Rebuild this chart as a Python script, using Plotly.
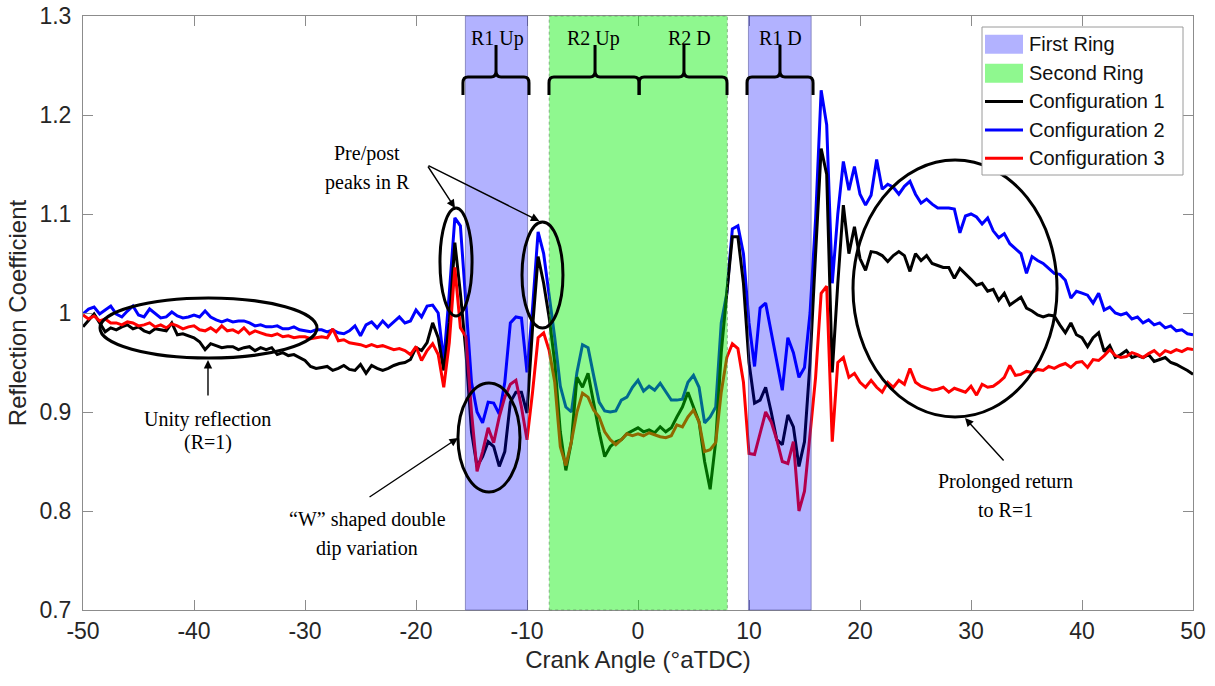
import numpy as np
import plotly.graph_objects as go

# Crank angle sampling grid (deg aTDC), 0.5 deg resolution
crank_angle = np.linspace(-50, 50, 201)

config1 = [
    0.986, 0.993, 0.999, 0.990, 0.981, 0.985, 0.983, 0.986, 0.988, 0.984,
    0.986, 0.982, 0.980, 0.984, 0.983, 0.982, 0.990, 0.978, 0.979, 0.977,
    0.975, 0.971, 0.963, 0.969, 0.967, 0.965, 0.966, 0.966, 0.963, 0.965,
    0.966, 0.962, 0.965, 0.963, 0.965, 0.958, 0.960, 0.957, 0.958, 0.955,
    0.952, 0.946, 0.944, 0.945, 0.946, 0.942, 0.944, 0.947, 0.943, 0.942,
    0.948, 0.939, 0.947, 0.944, 0.942, 0.944, 0.947, 0.949, 0.950, 0.953,
    0.965, 0.962, 0.970, 0.990, 0.975, 0.942, 0.990, 1.071, 1.020, 0.960,
    0.880, 0.845, 0.855, 0.870, 0.865, 0.845, 0.860, 0.910, 0.920, 0.920,
    0.899, 0.985, 1.057, 1.030, 0.995, 0.950, 0.880, 0.841, 0.870, 0.935,
    0.925, 0.939, 0.910, 0.880, 0.855, 0.865, 0.870, 0.872, 0.878, 0.881,
    0.884, 0.880, 0.882, 0.879, 0.885, 0.880, 0.884, 0.895, 0.905, 0.920,
    0.905, 0.890, 0.850, 0.822, 0.870, 0.960, 1.020, 1.077, 1.077, 1.030,
    0.950, 0.909, 0.912, 0.925, 0.900, 0.872, 0.867, 0.897, 0.885, 0.845,
    0.870, 0.950, 1.060, 1.166, 1.140, 0.940, 1.030, 1.109, 1.060, 1.087,
    1.055, 1.043, 1.062, 1.061, 1.058, 1.052, 1.058, 1.062, 1.058, 1.042,
    1.060, 1.053, 1.058, 1.050, 1.048, 1.046, 1.046, 1.035, 1.045, 1.040,
    1.034, 1.028, 1.030, 1.022, 1.024, 1.013, 1.020, 1.008, 1.012, 1.016,
    1.005, 1.002, 0.998, 0.996, 0.998, 0.997, 0.988, 0.980, 0.990, 0.978,
    0.975, 0.966, 0.975, 0.980, 0.961, 0.967, 0.955, 0.958, 0.962, 0.955,
    0.957, 0.955, 0.958, 0.951, 0.953, 0.955, 0.950, 0.948, 0.945, 0.942,
    0.938,
]

config2 = [
    0.999, 1.004, 1.006, 0.999, 1.003, 1.007, 0.999, 0.996, 1.002, 1.007,
    0.998, 0.996, 1.004, 0.999, 0.995, 0.996, 1.001, 0.997, 0.995, 0.996,
    0.998, 0.996, 1.002, 0.996, 0.993, 0.991, 0.993, 0.991, 0.992, 0.992,
    0.990, 0.987, 0.988, 0.986, 0.986, 0.987, 0.984, 0.984, 0.986, 0.983,
    0.982, 0.981, 0.983, 0.983, 0.981, 0.983, 0.980, 0.979, 0.982, 0.987,
    0.977, 0.988, 0.991, 0.985, 0.992, 0.986, 0.991, 0.996, 0.990, 0.992,
    1.003, 0.996, 1.007, 1.008, 1.000, 0.951, 1.020, 1.096, 1.088, 1.010,
    0.930, 0.900, 0.889, 0.910, 0.909, 0.898, 0.930, 0.990, 0.996, 0.995,
    0.940, 1.005, 1.082, 1.060, 1.020, 0.975, 0.926, 0.905, 0.900, 0.940,
    0.968, 0.965, 0.937, 0.910, 0.901, 0.900, 0.901, 0.912, 0.915, 0.925,
    0.932, 0.921, 0.926, 0.922, 0.929, 0.920, 0.912, 0.912, 0.913, 0.930,
    0.937, 0.925, 0.889, 0.895, 0.905, 0.990, 1.020, 1.085, 1.088, 1.060,
    0.990, 0.946, 1.005, 1.010, 0.980, 0.950, 0.922, 0.975, 0.960, 0.935,
    0.945, 1.000, 1.095, 1.225, 1.190, 1.030, 1.100, 1.153, 1.124, 1.148,
    1.120, 1.109, 1.119, 1.155, 1.125, 1.130, 1.127, 1.120, 1.128, 1.133,
    1.120, 1.111, 1.115, 1.110, 1.106, 1.106, 1.106, 1.105, 1.081, 1.098,
    1.100, 1.097, 1.090, 1.096, 1.083, 1.076, 1.080, 1.070, 1.065, 1.060,
    1.040, 1.057, 1.053, 1.050, 1.045, 1.040, 1.039, 1.033, 1.015, 1.022,
    1.020, 1.018, 1.010, 1.020, 1.003, 1.006, 1.000, 0.998, 1.000, 0.994,
    0.996, 0.990, 0.993, 0.988, 0.990, 0.985, 0.987, 0.982, 0.983, 0.979,
    0.978,
]

config3 = [
    0.998, 0.994, 0.997, 0.992, 0.994, 0.990, 0.990, 0.988, 0.991, 0.990,
    0.987, 0.988, 0.990, 0.986, 0.988, 0.985, 0.989, 0.987, 0.984, 0.986,
    0.987, 0.983, 0.982, 0.985, 0.981, 0.987, 0.982, 0.983, 0.980, 0.985,
    0.979, 0.982, 0.980, 0.978, 0.977, 0.979, 0.976, 0.977, 0.975, 0.976,
    0.976, 0.974, 0.975, 0.976, 0.975, 0.984, 0.972, 0.973, 0.970, 0.969,
    0.968, 0.966, 0.968, 0.966, 0.967, 0.965, 0.963, 0.964, 0.962, 0.958,
    0.966, 0.952, 0.962, 0.969, 0.958, 0.925, 0.970, 1.046, 0.985, 0.976,
    0.900, 0.840, 0.860, 0.884, 0.869, 0.895, 0.915, 0.928, 0.932, 0.905,
    0.872, 0.920, 0.975, 0.980, 0.962, 0.930, 0.865, 0.846, 0.870, 0.900,
    0.919, 0.915, 0.902, 0.895, 0.880, 0.872, 0.867, 0.872, 0.878, 0.876,
    0.878, 0.876, 0.879, 0.877, 0.875, 0.874, 0.876, 0.887, 0.885, 0.895,
    0.902, 0.890, 0.860, 0.862, 0.869, 0.920, 0.955, 0.969, 0.964, 0.930,
    0.858, 0.857, 0.880, 0.900, 0.890, 0.872, 0.850, 0.848, 0.870, 0.800,
    0.820, 0.880, 0.935, 1.020, 1.027, 0.870, 0.950, 0.955, 0.935, 0.939,
    0.930, 0.925, 0.932, 0.925, 0.920, 0.930, 0.925, 0.932, 0.928, 0.944,
    0.930, 0.926, 0.924, 0.922, 0.923, 0.925, 0.920, 0.924, 0.922, 0.920,
    0.926, 0.917, 0.928, 0.925, 0.926, 0.930, 0.935, 0.947, 0.937, 0.938,
    0.941, 0.940, 0.943, 0.942, 0.946, 0.944, 0.947, 0.949, 0.945, 0.950,
    0.951, 0.945, 0.953, 0.952, 0.957, 0.963, 0.957, 0.955, 0.956, 0.960,
    0.958, 0.955, 0.959, 0.962, 0.957, 0.962, 0.960, 0.963, 0.961, 0.964,
    0.963,
]

assert len(config1) == len(config2) == len(config3) == len(crank_angle)

series_names = ["Configuration 1", "Configuration 2", "Configuration 3"]
series_colors = ["#000000", "#0000ff", "#ff0000"]

# Ring passage windows (deg aTDC)
first_ring_windows = [(-15.55, -9.95), (9.95, 15.6)]
second_ring_windows = [(-8.0, 8.05)]
first_ring_fill = "rgba(0,0,255,0.30)"
second_ring_fill = "rgba(0,240,0,0.44)"

x_ticks = [-50, -40, -30, -20, -10, 0, 10, 20, 30, 40, 50]
x_tick_text = ["-50", "-40", "-30", "-20", "-10", "0", "10", "20", "30", "40", "50"]
y_ticks = [0.7, 0.8, 0.9, 1.0, 1.1, 1.2, 1.3]
y_tick_text = ["0.7", "0.8", "0.9", "1", "1.1", "1.2", "1.3"]

W, H = 1215, 686
ML, MR, MT, MB = 83, 22, 16, 76
PW, PH = W - ML - MR, H - MT - MB

SANS = "Liberation Sans, Arial, sans-serif"
SERIF = "Liberation Serif, Times New Roman, serif"

fig = go.Figure()

# draw order: blue underneath, then black, then red
for idx in (1, 0, 2):
    ys = [config1, config2, config3][idx]
    fig.add_trace(go.Scatter(
        x=crank_angle, y=ys, mode="lines", name=series_names[idx],
        line=dict(color=series_colors[idx], width=3), showlegend=False,
    ))

shapes = []
# translucent ring windows laid over the curves
for x0, x1 in first_ring_windows:
    shapes.append(dict(type="rect", xref="x", yref="y domain", x0=x0, x1=x1, y0=0, y1=1,
                       fillcolor=first_ring_fill, layer="above",
                       line=dict(color="rgba(80,80,150,0.55)", width=1)))
for x0, x1 in second_ring_windows:
    shapes.append(dict(type="rect", xref="x", yref="y domain", x0=x0, x1=x1, y0=0, y1=1,
                       fillcolor=second_ring_fill, layer="above",
                       line=dict(color="rgba(90,130,90,0.6)", width=1, dash="dot")))


def brace(xl, xr, xm, y_end=1.2202, y_bar=1.2384, y_top=1.2707, rx=0.45, ry=0.006):
    p = (f"M{xl},{y_end} L{xl},{y_bar - ry} Q{xl},{y_bar} {xl + rx},{y_bar} "
         f"L{xm - rx},{y_bar} Q{xm},{y_bar} {xm},{y_bar + ry} L{xm},{y_top} "
         f"M{xm},{y_bar + ry} Q{xm},{y_bar} {xm + rx},{y_bar} "
         f"L{xr - rx},{y_bar} Q{xr},{y_bar} {xr},{y_bar - ry} L{xr},{y_end}")
    return dict(type="path", xref="x", yref="y", path=p, layer="above",
                line=dict(color="black", width=3))


shapes += [brace(-15.77, -9.82, -12.79), brace(-8.02, 0.1, -3.87),
           brace(0.1, 8.02, 4.14), brace(9.82, 15.77, 12.79)]

# highlight ellipses
ellipses = [(-48.47, -28.92, 0.9545, 1.0152),
            (-17.84, -14.95, 0.9970, 1.1061),
            (-10.45, -6.76, 0.9848, 1.0919),
            (-16.22, -10.63, 0.8192, 0.9293),
            (19.37, 37.75, 0.8949, 1.1545)]
for x0, x1, y0, y1 in ellipses:
    shapes.append(dict(type="circle", xref="x", yref="y", x0=x0, x1=x1, y0=y0, y1=y1,
                       layer="above", line=dict(color="black", width=3)))


def pp(px, py):
    return (px - ML) / PW, (H - MB - py) / PH


# legend box drawn in figure space
bx0, by0 = pp(982, 175)
bx1, by1 = pp(1183, 27)
shapes.append(dict(type="rect", xref="paper", yref="paper", x0=bx0, x1=bx1, y0=by0, y1=by1,
                   fillcolor="white", layer="above", line=dict(color="#9a9a9a", width=1)))

legend_rows = [("First Ring", "patch", first_ring_fill, 44.3),
               ("Second Ring", "patch", second_ring_fill, 73.3),
               (series_names[0], "line", series_colors[0], 101.5),
               (series_names[1], "line", series_colors[1], 130.0),
               (series_names[2], "line", series_colors[2], 158.3)]
annotations = []
for label, kind, color, cy in legend_rows:
    if kind == "patch":
        a, b = pp(985, cy + 9.5)
        c, d = pp(1023, cy - 9.5)
        shapes.append(dict(type="rect", xref="paper", yref="paper", x0=a, x1=c, y0=b, y1=d,
                           fillcolor=color, layer="above", line=dict(width=0)))
    else:
        a, b = pp(985, cy)
        c, _ = pp(1023, cy)
        shapes.append(dict(type="line", xref="paper", yref="paper", x0=a, x1=c, y0=b, y1=b,
                           layer="above", line=dict(color=color, width=3)))
    tx, ty = pp(1027, cy)
    annotations.append(dict(x=tx, y=ty, xref="paper", yref="paper", text=label,
                            showarrow=False, xanchor="left", yanchor="middle",
                            font=dict(family=SANS, size=20, color="#111111")))

# ring labels above the braces
for text, xc in [("R1 Up", -12.66), ("R2 Up", -4.05), ("R2 D", 4.64), ("R1 D", 12.88)]:
    annotations.append(dict(x=xc, y=1.2775, xref="x", yref="y", text=text, showarrow=False,
                            xanchor="center", yanchor="middle",
                            font=dict(family=SERIF, size=20, color="black")))

# explanatory notes
notes = [("Pre/post", -24.41, 1.1616), ("peaks in R", -24.41, 1.1323),
         ("Unity reflection", -38.74, 0.8929), ("(R=1)", -38.74, 0.8697),
         ("\u201cW\u201d shaped double", -24.41, 0.7919), ("dip variation", -24.41, 0.7626),
         ("Prolonged return", 33.15, 0.8293), ("to R=1", 33.15, 0.8010)]
for text, xc, yc in notes:
    annotations.append(dict(x=xc, y=yc, xref="x", yref="y", text=text, showarrow=False,
                            xanchor="center", yanchor="middle",
                            font=dict(family=SERIF, size=20, color="black")))

# pointer arrows: (head x, head y, tail x, tail y)
arrows = [(-16.49, 1.1061, -19.01, 1.1495),
          (-8.89, 1.0929, -19.01, 1.1495),
          (-38.74, 0.9525, -38.74, 0.9152),
          (-16.22, 0.8737, -24.32, 0.8131),
          (29.46, 0.8939, 33.06, 0.8495)]
for hx, hy, tx, ty in arrows:
    annotations.append(dict(x=hx, y=hy, ax=tx, ay=ty, xref="x", yref="y", axref="x", ayref="y",
                            text="", showarrow=True, arrowhead=2, arrowsize=1.2,
                            arrowwidth=1.4, arrowcolor="black", standoff=0, startstandoff=0))

axis_common = dict(showline=True, linecolor="#8c8c8c", linewidth=1, mirror="ticks",
                   ticks="inside", ticklen=10, tickwidth=1, tickcolor="#8c8c8c",
                   showgrid=False, zeroline=False,
                   tickfont=dict(family=SANS, size=23, color="#262626"))

fig.update_layout(
    width=W, height=H,
    margin=dict(l=ML, r=MR, t=MT, b=MB, autoexpand=False),
    paper_bgcolor="white", plot_bgcolor="white",
    shapes=shapes, annotations=annotations, showlegend=False,
    xaxis=dict(range=[-50, 50], tickvals=x_ticks, ticktext=x_tick_text,
               title=dict(text="Crank Angle (\u00b0aTDC)", standoff=8,
                          font=dict(family=SANS, size=24, color="#262626")),
               **axis_common),
    yaxis=dict(range=[0.7, 1.3], tickvals=y_ticks, ticktext=y_tick_text,
               ticklabelstandoff=6,
               title=dict(text="Reflection Coefficient", standoff=6,
                          font=dict(family=SANS, size=24, color="#262626")),
               **axis_common),
)

fig.write_html("out.html")
